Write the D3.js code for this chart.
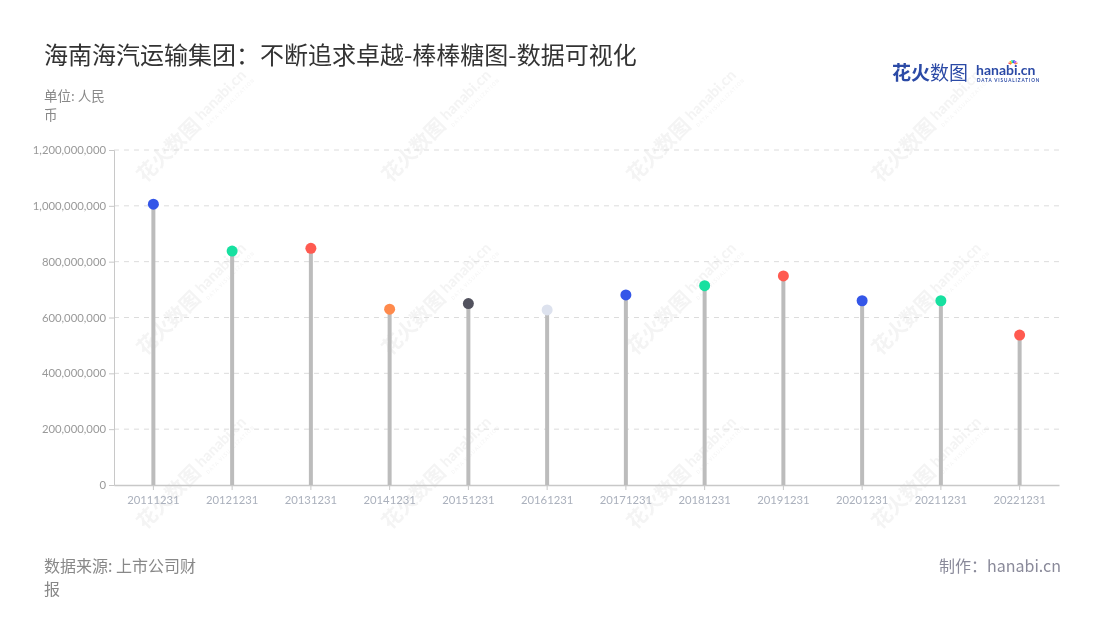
<!DOCTYPE html>
<html>
<head>
<meta charset="utf-8">
<script src="https://cdn.jsdelivr.net/npm/d3@7/dist/d3.min.js"></script>
<style>
  html, body { margin: 0; padding: 0; background: #fff; }
  svg { display: block; font-family: "Noto Sans CJK SC", "Noto Sans", sans-serif; }
</style>
</head>
<body>
<svg id="chart" width="1100" height="620"></svg>
<script>
const categories = ["20111231","20121231","20131231","20141231","20151231","20161231","20171231","20181231","20191231","20201231","20211231","20221231"];
const values = [1006000000, 838000000, 848000000, 630000000, 650000000, 627000000, 681000000, 714000000, 749000000, 660000000, 660000000, 537000000];
const dotColors = ["#3456e8","#17e0a0","#ff5a50","#ff8a4c","#52525e","#dde2ee","#3456e8","#17e0a0","#ff5a50","#3456e8","#17e0a0","#ff5a50"];
const yTicks = [0, 200000000, 400000000, 600000000, 800000000, 1000000000, 1200000000];

const svg = d3.select("#chart");
const m = { left: 114, right: 1059, top: 150, bottom: 485 };

// watermarks
const wm = svg.append("g").attr("opacity", 0.45);
const wmX = [175, 420, 665, 910], wmY = [145, 318, 492];
wmX.forEach(x => wmY.forEach(y => {
  const g = wm.append("g").attr("transform", `translate(${x},${y}) rotate(-45)`);
  g.append("text").attr("x", -48).attr("y", 6).attr("font-size", 20).attr("font-weight", 700)
    .attr("fill", "#e6e6e6").text("花火数图");
  g.append("text").attr("x", 36).attr("y", 2).attr("font-size", 15).attr("font-weight", 700)
    .attr("fill", "#e6e6e6").attr("font-family", "Lato, sans-serif").text("hanabi.cn");
  g.append("text").attr("x", 36).attr("y", 11).attr("font-size", 5).attr("fill", "#e6e6e6")
    .attr("letter-spacing", 1).text("DATA VISUALIZATION");
}));

const x = d3.scaleBand().domain(categories).range([m.left, m.right]);
const y = d3.scaleLinear().domain([0, 1200000000]).range([m.bottom, m.top]);

// grid
svg.append("g").selectAll("line").data(yTicks.filter(d => d > 0)).join("line")
  .attr("x1", m.left).attr("x2", m.right)
  .attr("y1", d => y(d)).attr("y2", d => y(d))
  .attr("stroke", "#dcdcdc").attr("stroke-dasharray", "5,5").attr("stroke-width", 1);

// y axis
const yAxis = svg.append("g").attr("transform", `translate(${m.left},0)`)
  .call(d3.axisLeft(y).tickValues(yTicks).tickFormat(d3.format(",")).tickSize(5).tickPadding(3));
yAxis.select(".domain").attr("stroke", "#c8c8c8");
yAxis.selectAll(".tick line").attr("stroke", "#c8c8c8");
yAxis.selectAll("text").attr("fill", "#999").attr("font-size", 11.3).attr("font-family", "Lato, 'Noto Sans', sans-serif");

// x axis
const xAxis = svg.append("g").attr("transform", `translate(0,${m.bottom})`)
  .call(d3.axisBottom(x).tickSize(5).tickPadding(6).tickSizeOuter(0));
xAxis.select(".domain").attr("stroke", "#c8c8c8").attr("stroke-width", 1.5);
xAxis.selectAll(".tick line").attr("stroke", "#c8c8c8");
xAxis.selectAll("text").attr("fill", "#aab0bc").attr("font-size", 11.3).attr("font-family", "Lato, 'Noto Sans', sans-serif");

// stems
svg.append("g").selectAll("line").data(categories).join("line")
  .attr("x1", d => x(d) + x.bandwidth() / 2).attr("x2", d => x(d) + x.bandwidth() / 2)
  .attr("y1", y(0)).attr("y2", (d, i) => y(values[i]))
  .attr("stroke", "#bcbcbc").attr("stroke-width", 4);

// dots
svg.append("g").selectAll("circle").data(categories).join("circle")
  .attr("cx", d => x(d) + x.bandwidth() / 2).attr("cy", (d, i) => y(values[i]))
  .attr("r", 5.5).attr("fill", (d, i) => dotColors[i]);

// title
svg.append("text").attr("x", 44).attr("y", 64).attr("font-size", 24).attr("fill", "#333")
  .text("海南海汽运输集团：不断追求卓越-棒棒糖图-数据可视化");

// unit
svg.append("text").attr("x", 44).attr("y", 101).attr("font-size", 13.5).attr("fill", "#888").text("单位: 人民");
svg.append("text").attr("x", 44).attr("y", 119.5).attr("font-size", 13.5).attr("fill", "#888").text("币");

// footer
svg.append("text").attr("x", 44).attr("y", 572).attr("font-size", 16).attr("fill", "#888").text("数据来源: 上市公司财");
svg.append("text").attr("x", 44).attr("y", 594.5).attr("font-size", 16).attr("fill", "#888").text("报");
svg.append("text").attr("x", 1061).attr("y", 572).attr("font-size", 16).attr("fill", "#8a8a9a")
  .attr("text-anchor", "end").text("制作：hanabi.cn");

// logo
const logo = svg.append("g");
logo.append("text").attr("x", 892).attr("y", 80).attr("font-size", 19).attr("font-weight", 700)
  .attr("fill", "#2b4aa6").text("花火");
logo.append("text").attr("x", 930).attr("y", 80).attr("font-size", 19)
  .attr("fill", "#2b4aa6").text("数图");
logo.append("text").attr("x", 976).attr("y", 75).attr("font-size", 14).attr("font-weight", 700)
  .attr("font-family", "Lato, sans-serif").attr("fill", "#2b4aa6").text("hanabi.cn");
logo.append("text").attr("x", 977).attr("y", 82).attr("font-size", 4.6).attr("font-weight", 700)
  .attr("letter-spacing", 0.9).attr("font-family", "Lato, sans-serif").attr("fill", "#2b4aa6").text("DATA VISUALIZATION");
const spark = ["#ff5a50","#ffb400","#17e0a0","#3456e8","#b04be8","#ff8a4c"];
spark.forEach((c, i) => {
  const a = -Math.PI / 2 + (i - 2.5) * 0.45;
  logo.append("line").attr("x1", 1013 + Math.cos(a) * 2).attr("y1", 65 + Math.sin(a) * 2)
    .attr("x2", 1013 + Math.cos(a) * 5).attr("y2", 65 + Math.sin(a) * 5)
    .attr("stroke", c).attr("stroke-width", 1.5);
});
</script>
</body>
</html>
